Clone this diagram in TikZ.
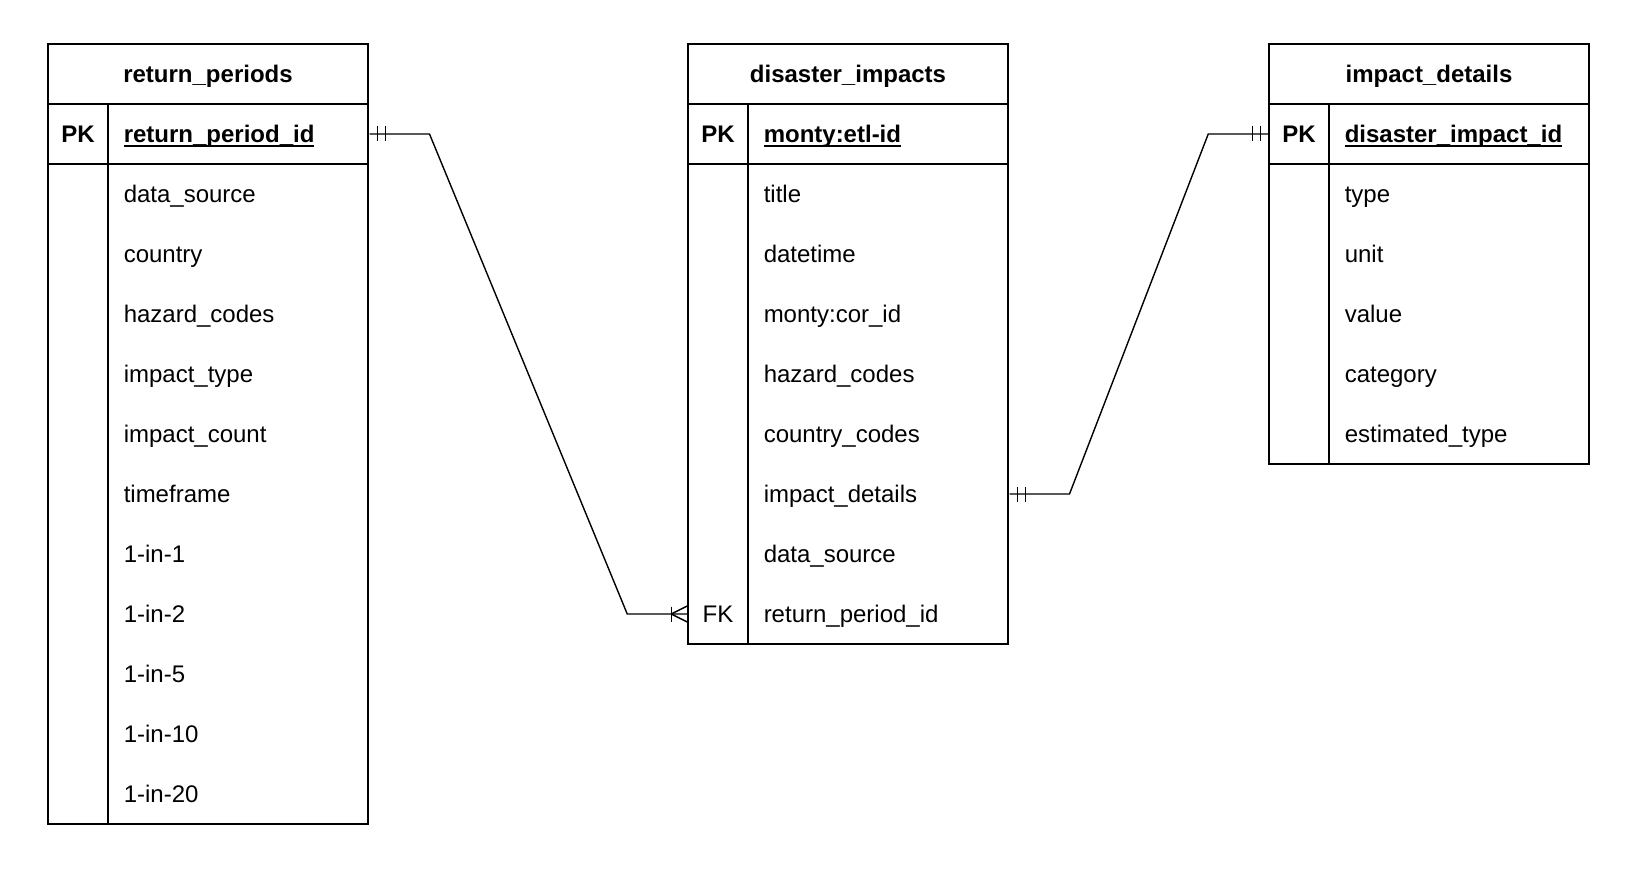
\documentclass[tikz,border=0pt]{standalone}
\usepackage{fontspec}
\setmainfont{Liberation Sans}

% underline of a primary key
\newcommand\pkline[1]{\setbox0\hbox{#1}\rlap{\rule[-4.6pt]{\wd0}{2pt}}\box0}

\tikzset{
  hdr/.style={font=\fontsize{24}{28}\selectfont\bfseries, text height=19.5pt, text depth=3pt, inner sep=0pt},
  key/.style={minimum width=60pt, minimum height=60pt, inner sep=0pt, text height=19.5pt, text depth=3pt},
  fld/.style={anchor=west, minimum width=260pt, minimum height=60pt, text width=230pt,
    inner xsep=15pt, inner ysep=0pt, align=left, text height=19.5pt, text depth=3pt},
  rel/.style={line width=1.4pt},
}

\begin{document}
\begin{tikzpicture}
  [x=1pt, y=-1pt, line width=1.5pt, font=\fontsize{24}{28}\selectfont]
  \useasboundingbox (0,0) rectangle (1650,888);

  % return_periods
  \draw (48,44) rectangle (368,824);
  \draw (48,104) -- (368,104);
  \draw (48,164) -- (368,164);
  \draw (108,104) -- (108,824);
  \node[hdr] (rp-head) at (208,74) {return\_periods};
  \node[key, font=\fontsize{24}{28}\selectfont\bfseries] (rp-pk) at (78,134) {PK};
  \node[fld, font=\fontsize{24}{28}\selectfont\bfseries] (rp-pkf) at (108,134) {\pkline{return\_period\_id}};
  \foreach \name [count=\i] in {data\_source, country, hazard\_codes, impact\_type,
      impact\_count, timeframe, 1-in-1, 1-in-2, 1-in-5, 1-in-10, 1-in-20}
    \node[fld] (rp-\i) at (108,134+60*\i) {\name};

  % disaster_impacts
  \draw (688,44) rectangle (1008,644);
  \draw (688,104) -- (1008,104);
  \draw (688,164) -- (1008,164);
  \draw (748,104) -- (748,644);
  \node[hdr] (di-head) at (848,74) {disaster\_impacts};
  \node[key, font=\fontsize{24}{28}\selectfont\bfseries] (di-pk) at (718,134) {PK};
  \node[fld, font=\fontsize{24}{28}\selectfont\bfseries] (di-pkf) at (748,134) {\pkline{monty:etl-id}};
  \foreach \name [count=\i] in {title, datetime, monty:cor\_id, hazard\_codes,
      country\_codes, impact\_details, data\_source, return\_period\_id}
    \node[fld] (di-\i) at (748,134+60*\i) {\name};
  \node[key] (di-fk) at (718,614) {FK};

  % impact_details
  \draw (1269,44) rectangle (1589,464);
  \draw (1269,104) -- (1589,104);
  \draw (1269,164) -- (1589,164);
  \draw (1329,104) -- (1329,464);
  \node[hdr] (id-head) at (1429,74) {impact\_details};
  \node[key, font=\fontsize{24}{28}\selectfont\bfseries] (id-pk) at (1299,134) {PK};
  \node[fld, font=\fontsize{24}{28}\selectfont\bfseries] (id-pkf) at (1329,134) {\pkline{disaster\_impact\_id}};
  \foreach \name [count=\i] in {type, unit, value, category, estimated\_type}
    \node[fld] (id-\i) at (1329,134+60*\i) {\name};

  % return_periods 1 -- n disaster_impacts
  \draw[rel] (rp-pkf.east) -- ++(60,0) -- ([xshift=-60pt]di-fk.west) -- (di-fk.west);
  \draw[rel] ([xshift=8pt]rp-pkf.east) ++(0,-7.5) -- ++(0,15);
  \draw[rel] ([xshift=16pt]rp-pkf.east) ++(0,-7.5) -- ++(0,15);
  \draw[rel] ([xshift=-16pt]di-fk.west) ++(0,-7.5) -- ++(0,15);
  \draw[rel] ([xshift=-16pt]di-fk.west) -- ([yshift=8pt]di-fk.west);
  \draw[rel] ([xshift=-16pt]di-fk.west) -- ([yshift=-8pt]di-fk.west);

  % disaster_impacts 1 -- 1 impact_details
  \draw[rel] (di-6.east) -- ++(60,0) -- ([xshift=-60pt]id-pk.west) -- (id-pk.west);
  \draw[rel] ([xshift=8pt]di-6.east) ++(0,-7.5) -- ++(0,15);
  \draw[rel] ([xshift=16pt]di-6.east) ++(0,-7.5) -- ++(0,15);
  \draw[rel] ([xshift=-8pt]id-pk.west) ++(0,-7.5) -- ++(0,15);
  \draw[rel] ([xshift=-16pt]id-pk.west) ++(0,-7.5) -- ++(0,15);
\end{tikzpicture}
\end{document}
